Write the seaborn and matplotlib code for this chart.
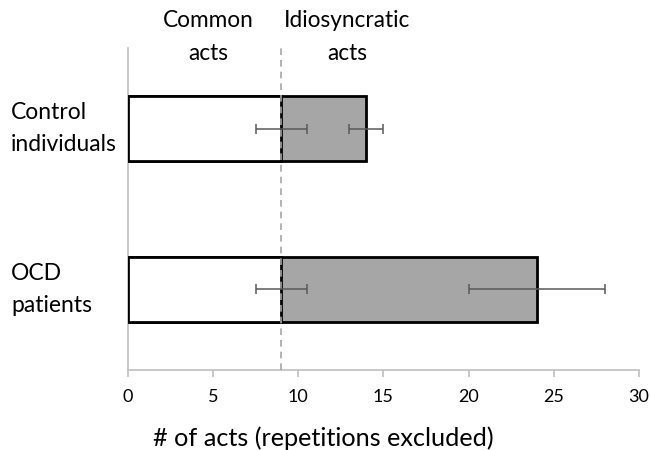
import matplotlib
matplotlib.use("Agg")
import matplotlib.pyplot as plt
import matplotlib.transforms as mtransforms
import seaborn as sns
import pandas as pd

groups = ["Control\nindividuals", "OCD\npatients"]
common = [9, 9]
idiosyncratic = [5, 15]
common_err = [1.5, 1.5]
total_err = [1.0, 4.0]
xticks = [0, 5, 10, 15, 20, 25, 30]
header_labels = ["Common\nacts", "Idiosyncratic\nacts"]
xlabel = "# of acts (repetitions excluded)"

totals = [c + i for c, i in zip(common, idiosyncratic)]
df = pd.DataFrame({"group": groups, "common": common, "total": totals})

sns.set_theme(style="white")
plt.rcParams["font.family"] = ["Lato", "DejaVu Sans"]
plt.rcParams["text.color"] = "black"

fig = plt.figure(figsize=(6.51, 4.5), dpi=100)
ax = fig.add_axes([0.1962, 0.1778, 0.7854, 0.7155])

sns.barplot(data=df, x="total", y="group", orient="h", color="#a6a6a6",
            saturation=1, edgecolor="black", linewidth=2.0, width=0.4, ax=ax, zorder=2)
sns.barplot(data=df, x="common", y="group", orient="h", color="white",
            saturation=1, edgecolor="black", linewidth=2.0, width=0.4, ax=ax, zorder=3)

ypos = list(range(len(groups)))
ax.errorbar(common, ypos, xerr=common_err, fmt="none", ecolor="#595959",
            elinewidth=1.1, capsize=3.5, capthick=1.1, zorder=5)
ax.errorbar(totals, ypos, xerr=total_err, fmt="none", ecolor="#595959",
            elinewidth=1.1, capsize=3.5, capthick=1.1, zorder=5)

ax.axvline(common[0], color="#a6a6a6", linestyle=(0, (4, 3)), linewidth=1.2, zorder=6)

ax.set_xlim(0, 30)
ax.set_ylim(1.5, -0.5)
ax.set_xticks(xticks)
ax.set_xticklabels([str(t) for t in xticks], fontsize=13)
ax.set_xlabel("")
ax.set_ylabel("")
ax.set_yticks([])

for s in ["top", "right"]:
    ax.spines[s].set_visible(False)
for s in ["left", "bottom"]:
    ax.spines[s].set_color("#bfbfbf")
    ax.spines[s].set_linewidth(1.2)

ax.tick_params(axis="x", bottom=True, length=5, width=1.2, color="#bfbfbf", pad=9, labelcolor="black")

renderer = fig.canvas.get_renderer()

def fit(t, target_px):
    for _ in range(4):
        w = t.get_window_extent(renderer).width
        t.set_fontsize(t.get_fontsize() * target_px / w)

# category labels, left aligned
trans = mtransforms.blended_transform_factory(fig.transFigure, ax.transData)
cat_texts = []
for g, y in zip(groups, ypos):
    t = fig.text(11 / 651, y, g, transform=trans, ha="left", va="center",
                 fontsize=15, linespacing=1.65)
    cat_texts.append(t)
fit(cat_texts[0], 106)
for t in cat_texts[1:]:
    t.set_fontsize(cat_texts[0].get_fontsize())

h1 = fig.text(208 / 651, 1 - 37 / 450, header_labels[0], ha="center", va="center",
              fontsize=16, linespacing=1.65)
fit(h1, 91)
h2 = fig.text(347 / 651, 1 - 37 / 450, header_labels[1], ha="center", va="center",
              fontsize=h1.get_fontsize(), linespacing=1.65)
xl = fig.text(323 / 651, 1 - 438 / 450, xlabel, ha="center", va="center",
              fontsize=16)
fit(xl, 340)

fig.savefig("out.png", dpi=100)
